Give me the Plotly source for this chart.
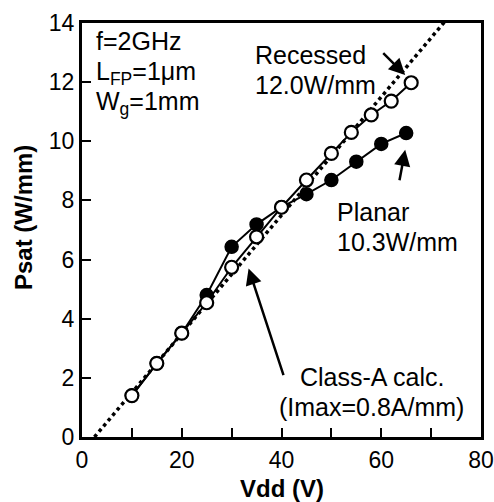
import plotly.graph_objects as go

# Data
vdd_planar = [10, 15, 20, 25, 30, 35, 40, 45, 50, 55, 60, 65]
psat_planar = [1.40, 2.49, 3.51, 4.80, 6.43, 7.19, 7.77, 8.21, 8.69, 9.31, 9.91, 10.28]

vdd_recessed = [10, 15, 20, 25, 30, 35, 40, 45, 50, 54, 58, 62, 66]
psat_recessed = [1.40, 2.49, 3.51, 4.54, 5.74, 6.77, 7.77, 8.69, 9.59, 10.30, 10.89, 11.36, 11.98]

vdd_calc = [2.5, 75.0]
psat_calc = [0.0, 14.5]

x_ticks = [0, 20, 40, 60, 80]
y_ticks = [0, 2, 4, 6, 8, 10, 12, 14]

FONT = "Liberation Sans, Arial, sans-serif"
W, H = 494, 502
ML, MR, MT, MB = 82, 13, 23, 65

fig = go.Figure()
fig.add_trace(go.Scatter(x=vdd_calc, y=psat_calc, mode="lines",
                         line=dict(color="black", width=3.5, dash="dot"),
                         showlegend=False, hoverinfo="skip"))
fig.add_trace(go.Scatter(x=vdd_planar, y=psat_planar, mode="lines+markers",
                         line=dict(color="black", width=2),
                         marker=dict(size=13, color="black", line=dict(color="black", width=1.5)),
                         showlegend=False))
fig.add_trace(go.Scatter(x=vdd_recessed, y=psat_recessed, mode="lines+markers",
                         line=dict(color="black", width=2),
                         marker=dict(size=13, color="white", line=dict(color="black", width=2.2)),
                         showlegend=False))

ann_font = dict(family=FONT, size=25, color="black")
texts = [
    ("f=2GHz", 2.5, 13.40),
    ("L<sub>FP</sub>=1μm", 2.5, 12.30),
    ("W<sub>g</sub>=1mm", 2.5, 11.28),
    ("Recessed", 34.3, 12.92),
    ("12.0W/mm", 34.3, 11.90),
    ("Planar", 50.8, 7.62),
    ("10.3W/mm", 50.8, 6.60),
    ("Class-A calc.", 43.3, 2.04),
    ("(Imax=0.8A/mm)", 39.1, 1.02),
]
annotations = []
for t, x, y in texts:
    annotations.append(dict(text=t, x=x, y=y, xref="x", yref="y", xanchor="left",
                            yanchor="middle", showarrow=False, font=ann_font))

arrows = [
    ((60.1, 13.03), (64.8, 12.24)),
    ((63.6, 8.63), (64.8, 9.71)),
    ((40.5, 2.04), (33.4, 5.70)),
]
for (tx, ty), (hx, hy) in arrows:
    annotations.append(dict(x=hx, y=hy, ax=tx, ay=ty, xref="x", yref="y", axref="x", ayref="y",
                            text="", showarrow=True, arrowhead=2, arrowsize=1.3,
                            arrowwidth=2.5, arrowcolor="black"))

pw = W - ML - MR
ph = H - MT - MB
annotations.append(dict(text="<b>Psat (W/mm)</b>", x=(23 - ML) / pw, y=1 - (218 - MT) / ph,
                        xref="paper", yref="paper", xanchor="center", yanchor="middle",
                        showarrow=False, textangle=-90,
                        font=dict(family=FONT, size=24, color="black")))
annotations.append(dict(text="<b>Vdd (V)</b>", x=(282 - ML) / pw, y=1 - (489 - MT) / ph,
                        xref="paper", yref="paper", xanchor="center", yanchor="middle",
                        showarrow=False, font=dict(family=FONT, size=24, color="black")))

fig.update_layout(
    width=W, height=H,
    margin=dict(l=ML, r=MR, t=MT, b=MB),
    paper_bgcolor="white", plot_bgcolor="white",
    font=dict(family=FONT, size=23, color="black"),
    annotations=annotations,
)

fig.update_xaxes(range=[0, 80], tickvals=x_ticks, ticks="inside", ticklen=9, tickwidth=2,
                 tickcolor="black", showline=True, linewidth=3, linecolor="black", mirror=True,
                 showgrid=False, zeroline=False, automargin=False,
                 minor=dict(dtick=10, ticks="inside", ticklen=9, tickwidth=2, tickcolor="black"),
                 tickfont=dict(family=FONT, size=23))
fig.update_yaxes(range=[0, 14], tickvals=y_ticks, ticks="inside", ticklen=9, tickwidth=2,
                 tickcolor="black", showline=True, linewidth=3, linecolor="black", mirror=True,
                 showgrid=False, zeroline=False, automargin=False,
                 tickfont=dict(family=FONT, size=23))

fig.write_html("out.html", config={"displayModeBar": False},
               post_script="document.body.style.margin='0';document.body.style.padding='0';"
                           "document.body.style.overflow='hidden';")
